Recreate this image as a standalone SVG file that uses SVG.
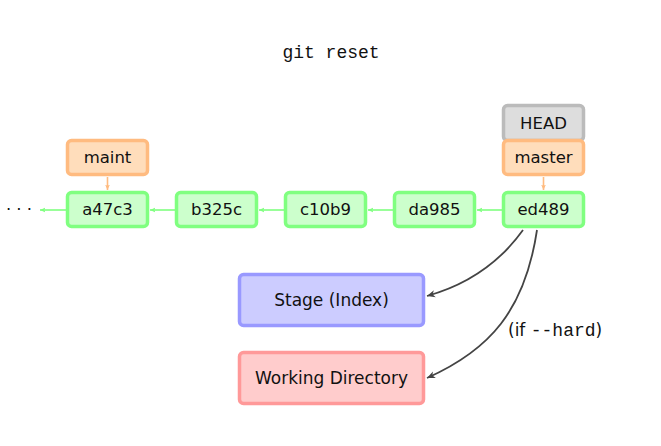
<svg xmlns="http://www.w3.org/2000/svg" width="661" height="446" viewBox="0 0 661 446">
  <style>
    .box { stroke-width: 3.5; }
    .commit { fill: #ccffcc; stroke: #80ff80; }
    .branch { fill: #ffddbb; stroke: #ffbb80; }
    .head { fill: #dddddd; stroke: #bbbbbb; }
    .stage { fill: #ccccff; stroke: #9999ff; }
    .wd { fill: #ffcccc; stroke: #ff9999; }
    .lbl { font-family: "DejaVu Sans", "Liberation Sans", sans-serif; font-size: 16.5px; fill: #111; text-anchor: middle; dominant-baseline: central; }
    .big { font-size: 17px; }
    .mono { font-family: "Liberation Mono", "DejaVu Sans Mono", monospace; font-size: 18px; fill: #111; }
    .hist { stroke: #80ff80; stroke-width: 1.6; fill: none; }
    .ptr { stroke: #ffbb80; stroke-width: 1.6; fill: none; }
    .reset { stroke: #444; stroke-width: 1.8; fill: none; }
  </style>
  <defs>
    <marker id="ah-green" viewBox="0 0 10 10" refX="9" refY="5" markerWidth="6" markerHeight="6" orient="auto" markerUnits="userSpaceOnUse">
      <path d="M0,1 L9,5 L0,9 L2,5 z" fill="#80ff80"/>
    </marker>
    <marker id="ah-orange" viewBox="0 0 10 10" refX="9" refY="5" markerWidth="6" markerHeight="6" orient="auto" markerUnits="userSpaceOnUse">
      <path d="M0,1 L9,5 L0,9 L2,5 z" fill="#ffbb80"/>
    </marker>
    <marker id="ah-dark" viewBox="0 0 10 10" refX="9" refY="5" markerWidth="9" markerHeight="9" orient="auto" markerUnits="userSpaceOnUse">
      <path d="M0,1 L9,5 L0,9 L2.5,5 z" fill="#444"/>
    </marker>
  </defs>

  <text class="mono" x="331" y="58" text-anchor="middle">git reset</text>

  <g id="connectors">
    <line class="hist" x1="66" y1="210" x2="40" y2="210" marker-end="url(#ah-green)"/>
    <line class="hist" x1="175" y1="210" x2="150" y2="210" marker-end="url(#ah-green)"/>
    <line class="hist" x1="284" y1="210" x2="259" y2="210" marker-end="url(#ah-green)"/>
    <line class="hist" x1="393" y1="210" x2="368" y2="210" marker-end="url(#ah-green)"/>
    <line class="hist" x1="502" y1="210" x2="477" y2="210" marker-end="url(#ah-green)"/>
    <line class="ptr" x1="107.5" y1="177" x2="107.5" y2="190" marker-end="url(#ah-orange)"/>
    <line class="ptr" x1="543.5" y1="177" x2="543.5" y2="190" marker-end="url(#ah-orange)"/>
    <path class="reset" d="M523,230 C500,262 470,284 427,296" marker-end="url(#ah-dark)"/>
    <path class="reset" d="M537,230 C525,310 490,350 427,378" marker-end="url(#ah-dark)"/>
  </g>

  <g id="ellipsis">
    <text class="lbl" x="19" y="209">· · ·</text>
  </g>

  <g id="a47c3"><rect class="box commit" x="67.5" y="192.5" width="80" height="34" rx="4"/><text class="lbl" x="107.5" y="209.5">a47c3</text></g>
  <g id="b325c"><rect class="box commit" x="176.5" y="192.5" width="80" height="34" rx="4"/><text class="lbl" x="216.5" y="209.5">b325c</text></g>
  <g id="c10b9"><rect class="box commit" x="285.5" y="192.5" width="80" height="34" rx="4"/><text class="lbl" x="325.5" y="209.5">c10b9</text></g>
  <g id="da985"><rect class="box commit" x="394.5" y="192.5" width="80" height="34" rx="4"/><text class="lbl" x="434.5" y="209.5">da985</text></g>
  <g id="ed489"><rect class="box commit" x="503.5" y="192.5" width="80" height="34" rx="4"/><text class="lbl" x="543.5" y="209.5">ed489</text></g>

  <g id="maint"><rect class="box branch" x="67.5" y="140.5" width="80" height="34" rx="4"/><text class="lbl" x="107.5" y="157.5">maint</text></g>
  <g id="HEAD"><rect class="box head" x="503.5" y="105.5" width="80" height="35" rx="4"/><text class="lbl" x="543.5" y="123">HEAD</text></g>
  <g id="master"><rect class="box branch" x="503.5" y="140.5" width="80" height="34" rx="4"/><text class="lbl" x="543.5" y="157.5">master</text></g>

  <g id="stage"><rect class="box stage" x="239.5" y="274.5" width="184" height="51" rx="4"/><text class="lbl big" x="331.5" y="300">Stage (Index)</text></g>
  <g id="workdir"><rect class="box wd" x="239.5" y="352.5" width="184" height="51" rx="4"/><text class="lbl big" x="331.5" y="378">Working Directory</text></g>

  <g id="hard-label">
    <text x="508" y="336" style="font-family: 'DejaVu Sans', 'Liberation Sans', sans-serif; font-size: 17px; fill: #111;">(if <tspan style="font-family: 'Liberation Mono', 'DejaVu Sans Mono', monospace; font-size: 18px;">--hard</tspan>)</text>
  </g>
</svg>
